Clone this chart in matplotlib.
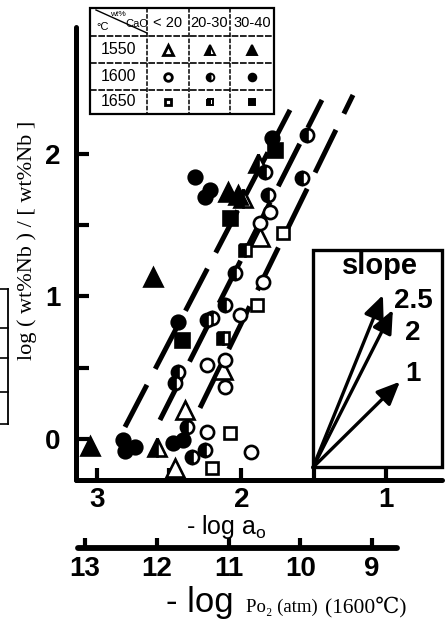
import matplotlib
matplotlib.use("Agg")
import matplotlib.pyplot as plt
from matplotlib.patches import Rectangle

# ---------------- data ----------------
# 1550 C  (triangles)
tri_lt20_x = [2.391, 2.460, 2.128, 1.872]
tri_lt20_y = [0.204, -0.204, 0.484, 1.418]
tri_2030_x = [2.585, 1.990, 1.886]
tri_2030_y = [-0.056, 1.690, 1.937]
tri_3040_x = [3.048, 2.612, 2.093, 2.024]
tri_3040_y = [-0.050, 1.137, 1.733, 1.712]
# 1600 C  (circles)
cir_lt20_x = [2.239, 1.934, 2.239, 2.114, 2.114, 2.010, 1.851, 1.872, 1.803]
cir_lt20_y = [0.049, -0.091, 0.519, 0.554, 0.365, 0.870, 1.102, 1.516, 1.593]
cir_2030_x = [2.377, 2.343, 2.253, 2.440, 2.460, 2.239, 2.204, 2.114, 2.045,
              1.837, 1.817, 1.581, 1.547]
cir_2030_y = [0.084, -0.126, -0.077, 0.470, 0.393, 0.835, 0.849, 0.940, 1.165,
              1.874, 1.712, 1.832, 2.133]
cir_3040_x = [2.820, 2.806, 2.737, 2.474, 2.405, 2.440, 2.322, 2.218, 2.253, 1.789]
cir_3040_y = [-0.007, -0.084, -0.056, -0.028, -0.007, 0.821, 1.839, 1.747, 1.698, 2.112]
# 1650 C  (squares)
sq_lt20_x = [2.080, 2.204, 1.893, 1.713]
sq_lt20_y = [0.042, -0.204, 0.940, 1.446]
sq_2030_x = [2.128, 1.976]
sq_2030_y = [0.709, 1.326]
sq_3040_x = [2.412, 2.080, 1.768]
sq_3040_y = [0.695, 1.551, 2.028]

# dashed slope-2 lines
fit_x0 = [2.806, 2.564, 2.287]
fit_y0 = [0.084, 0.133, 0.218]
fit_x1 = [1.664, 1.443, 1.228]
fit_y1 = [2.309, 2.379, 2.414]

# slope inset
slopes = [2.5, 2.0, 1.0]
slope_labels = ["2.5", "2", "1"]
arrow_dx = [0.484, 0.553, 0.602]

# axes ticks
x_ticks = [3, 2.5, 2, 1.5, 1]
x_ticklabels = ["3", "", "2", "", "1"]
y_ticks = [0, 0.5, 1, 1.5, 2]
y_ticklabels = ["0", "", "1", "", "2"]
po2_ticks = [13, 12, 11, 10, 9]

# legend table
table_temps = ["1550", "1600", "1650"]
table_cols = ["< 20", "20-30", "30-40"]
table_markers = ["^", "o", "s"]
table_fills = ["none", "left", "full"]

# ---------------- figure ----------------
W, H = 445, 619
fig = plt.figure(figsize=(W / 100, H / 100), dpi=100)
SANS = ["Liberation Sans", "DejaVu Sans"]
SERIF = ["Liberation Serif", "DejaVu Serif", "DejaVu Sans"]


def fx(px):
    return px / W


def fy(py):
    return 1 - py / H


ax = fig.add_axes([fx(76), fy(480), (442 - 76) / W, (480 - 27) / H])
ax.set_xlim(3.145, 0.612)
ax.set_ylim(-0.288, 2.891)
for s in ["top", "right"]:
    ax.spines[s].set_visible(False)
for s in ["left", "bottom"]:
    ax.spines[s].set_linewidth(3.6)
    ax.spines[s].set_capstyle("round")
ax.set_xticks(x_ticks)
ax.set_xticklabels(x_ticklabels)
ax.set_yticks(y_ticks)
ax.set_yticklabels(y_ticklabels)
ax.tick_params(direction="in", length=9, width=3)
ax.tick_params(axis="x", pad=5)
ax.tick_params(axis="y", pad=11)
for lab in ax.get_xticklabels() + ax.get_yticklabels():
    lab.set_fontfamily(SANS)
    lab.set_fontweight("bold")
    lab.set_fontsize(20)

# fit lines
for x0, y0, x1, y1 in zip(fit_x0, fit_y0, fit_x1, fit_y1):
    ax.plot([x0, x1], [y0, y1], color="black", lw=3.6, dashes=(9.5, 3.6),
            solid_capstyle="butt", dash_capstyle="butt", zorder=2)

# data markers
mew = 1.9
groups = [
    (tri_lt20_x, tri_lt20_y, "^", "none", 12.5),
    (tri_2030_x, tri_2030_y, "^", "left", 12.5),
    (tri_3040_x, tri_3040_y, "^", "full", 12.5),
    (cir_lt20_x, cir_lt20_y, "o", "none", 9.5),
    (cir_2030_x, cir_2030_y, "o", "left", 9.5),
    (cir_3040_x, cir_3040_y, "o", "full", 9.8),
    (sq_lt20_x, sq_lt20_y, "s", "none", 9.3),
    (sq_2030_x, sq_2030_y, "s", "left", 9.3),
    (sq_3040_x, sq_3040_y, "s", "full", 9.5),
]
for gx, gy, mk, fill, ms in groups:
    if fill == "none":
        ax.plot(gx, gy, ls="none", marker=mk, ms=ms, mfc="white", mec="black",
                mew=mew, zorder=4, clip_on=False)
    else:
        ax.plot(gx, gy, ls="none", marker=mk, ms=ms, mfc="black", mec="black",
                mfcalt="white", fillstyle=fill, mew=mew, zorder=4, clip_on=False)

# slope inset box & arrows
ox, oy = 1.505, -0.200
box_top = 1.326
ax.add_patch(Rectangle((ox, oy), 0.612 - ox, box_top - oy, fill=False,
                       ec="black", lw=2.4, zorder=3, clip_on=False))
for s, dx in zip(slopes, arrow_dx):
    ax.annotate("", xy=(ox - dx, oy + s * dx), xytext=(ox, oy),
                arrowprops=dict(arrowstyle="-|>,head_length=0.5,head_width=0.22",
                                color="black", lw=2.4,
                                mutation_scale=28, shrinkA=0, shrinkB=0),
                zorder=5)

# second axis (-log Po2)
ax2 = fig.add_axes([fx(78), fy(548), (397 - 78) / W, 0.0001])
ax2.set_xlim(13.098, 8.652)
ax2.set_ylim(0, 1)
for s in ["top", "right", "left"]:
    ax2.spines[s].set_visible(False)
ax2.spines["bottom"].set_linewidth(4.2)
ax2.spines["bottom"].set_capstyle("round")
ax2.set_yticks([])
ax2.set_xticks(po2_ticks)
ax2.set_xticklabels([str(t) for t in po2_ticks])
ax2.tick_params(axis="x", direction="in", length=7, width=3, pad=6)
for lab in ax2.get_xticklabels():
    lab.set_fontfamily(SANS)
    lab.set_fontweight("bold")
    lab.set_fontsize(20)
ax2.patch.set_visible(False)

# overlay in pixel coordinates for annotations / table
ov = fig.add_axes([0, 0, 1, 1], zorder=10)
ov.set_xlim(0, W)
ov.set_ylim(H, 0)
ov.axis("off")

# axis titles
ov.text(226, 527, "- log $\\mathregular{a_o}$", fontsize=18, family=SANS,
        ha="center", va="center")
ov.text(200, 612, "- log", fontsize=25, family=SANS, ha="center",
        va="baseline")
ov.text(246, 612, "Po₂ (atm)", fontsize=13.5, family=SERIF,
        ha="left", va="baseline")
ov.text(325, 612, "(1600℃)", fontsize=15.5, family=SERIF,
        ha="left", va="baseline")
ov.text(27, 240, "log ( wt%Nb ) / [ wt%Nb ]", fontsize=16, family=SERIF,
        rotation=90, ha="center", va="center")

# slope inset texts
ov.text(380, 266, "slope", fontsize=21, family=SANS, fontweight="bold",
        ha="center", va="center")
for lab, yy in zip(slope_labels, [301, 333, 374]):
    ov.text(413, yy, lab, fontsize=20, family=SANS, fontweight="bold",
            ha="center", va="center")

# legend table
tx = [90, 147, 189, 230, 274]
ty = [8, 36, 63, 90, 114]
ov.add_patch(Rectangle((tx[0], ty[0]), tx[-1] - tx[0], ty[-1] - ty[0],
                       fill=False, ec="black", lw=1.6))
for x in tx[1:-1]:
    ov.plot([x, x], [ty[0], ty[-1]], color="black", lw=1.1, ls=(0, (3, 1)))
for y in ty[1:-1]:
    ov.plot([tx[0], tx[-1]], [y, y], color="black", lw=1.2, ls=(0, (4, 1)))
ov.plot([tx[0] + 6, tx[1]], [ty[0] + 2, ty[1] - 3], color="black", lw=1.0)
ov.text(118, 14, "wt%", fontsize=6, family=SANS, ha="center", va="center")
ov.text(137, 24, "CaO", fontsize=8, family=SANS, ha="center", va="center")
ov.text(103, 27, "°C", fontsize=8, family=SANS, ha="center", va="center")
for j, c in enumerate(table_cols):
    ov.text((tx[j + 1] + tx[j + 2]) / 2, (ty[0] + ty[1]) / 2 + 1, c,
            fontsize=10.5, family=SANS, ha="center", va="center")
tms = {"^": 7, "o": 5.5, "s": 5}
for i, t in enumerate(table_temps):
    yc = (ty[i + 1] + ty[i + 2]) / 2
    ov.text((tx[0] + tx[1]) / 2, yc, t, fontsize=11.5, family=SANS,
            ha="center", va="center")
    mk = table_markers[i]
    for j, f in enumerate(table_fills):
        xc = (tx[j + 1] + tx[j + 2]) / 2
        if f == "none":
            ov.plot([xc], [yc], marker=mk, ms=tms[mk], mfc="white", mec="black",
                    mew=2.0, ls="none")
        else:
            ov.plot([xc], [yc], marker=mk, ms=tms[mk], mfc="black", mec="black",
                    mfcalt="white", fillstyle=f, mew=1.4, ls="none")

# fragment of a neighbouring table at the left edge
ov.plot([8, 8], [289, 424], color="black", lw=1.3)
for y in [289, 328, 358, 392, 424]:
    ov.plot([0, 8], [y, y], color="black", lw=1.2)

fig.savefig("out.png", dpi=100)
